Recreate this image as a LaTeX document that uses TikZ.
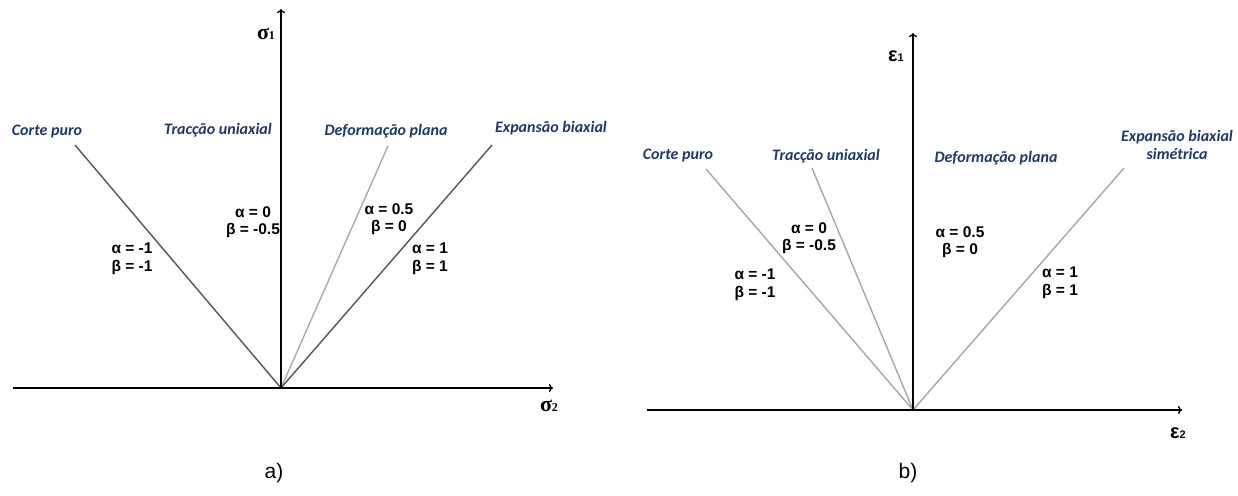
\documentclass[tikz,border=0pt]{standalone}
\usepackage{fontspec}
\setmainfont{Liberation Sans}
\newfontfamily\labfont{Carlito}
\newfontfamily\serffont{Liberation Serif}
\usetikzlibrary{arrows.meta}
\definecolor{navy}{HTML}{1F3864}
\definecolor{darkline}{HTML}{555555}
\definecolor{lightline}{HTML}{AAAAAA}
\definecolor{midline}{HTML}{A6A6A6}
\tikzset{
  axis/.style={line width=1.3pt, black, -{To[length=4pt,width=8pt]}},
  darkray/.style={line width=1.4pt, darkline},
  lightray/.style={line width=1.4pt, lightline},
  midray/.style={line width=1.4pt, midline},
  modelab/.style={font=\labfont\fontsize{16}{18}\selectfont\bfseries\itshape, text=navy, inner sep=0pt, align=center},
  coef/.style={font=\fontsize{15.5}{17.5}\selectfont\bfseries, inner sep=0pt, align=center},
  axlab/.style={inner sep=0pt},
  panel/.style={font=\fontsize{21}{22}\selectfont, inner sep=0pt}
}
\begin{document}
\begin{tikzpicture}[x=1pt,y=-1pt]
\useasboundingbox (0,0) rectangle (1238,495);
% ---------------- panel a ----------------
\coordinate (Oa) at (281,388);
\coordinate (XaL) at (13,388);
\coordinate (XaR) at (553,388);
\coordinate (YaT) at (281,9);
\coordinate (CaT) at (75,145);
\coordinate (DaT) at (388,146);
\coordinate (EaT) at (492,145);
\draw[darkray] (Oa) -- (CaT);
\draw[lightray] (Oa) -- (DaT);
\draw[darkray] (Oa) -- (EaT);
\draw[axis] (XaL) -- (XaR);
\draw[axis] (Oa) -- (YaT);
\node[axlab] (s1) at (266,34) {\serffont\bfseries\fontsize{22}{22}\selectfont σ\fontsize{12}{12}\selectfont 1};
\node[axlab] (s2) at (549,406) {\serffont\bfseries\fontsize{22}{22}\selectfont σ\fontsize{12}{12}\selectfont 2};
\node[modelab] (ca) at (47,132) {Corte puro};
\node[modelab] (ta) at (218,130) {Tracção uniaxial};
\node[modelab] (da) at (386,131) {Deformação plana};
\node[modelab] (ea) at (551,128) {Expansão biaxial};
\node[coef] (k1a) at (253,222) {α = 0\\β = -0.5};
\node[coef] (k2a) at (389,219) {α = 0.5\\β = 0};
\node[coef] (k3a) at (132,259) {α = -1\\β = -1};
\node[coef] (k4a) at (430,259) {α = 1\\β = 1};
\node[panel] (pa) at (274,473) {a)};
% ---------------- panel b ----------------
\coordinate (Ob) at (913,410);
\coordinate (XbL) at (647,410);
\coordinate (XbR) at (1182,410);
\coordinate (YbT) at (913,33);
\coordinate (CbT) at (706,169);
\coordinate (TbT) at (812,168);
\coordinate (EbT) at (1124,168);
\draw[midray] (Ob) -- (CbT);
\draw[midray] (Ob) -- (TbT);
\draw[midray] (Ob) -- (EbT);
\draw[axis] (XbL) -- (XbR);
\draw[axis] (Ob) -- (YbT);
\node[axlab] (e1) at (896,56) {\bfseries\fontsize{20}{20}\selectfont ε\fontsize{11}{11}\selectfont 1};
\node[axlab] (e2) at (1178,433) {\bfseries\fontsize{20}{20}\selectfont ε\fontsize{11}{11}\selectfont 2};
\node[modelab] (cb) at (678,156) {Corte puro};
\node[modelab] (tb) at (826,156) {Tracção uniaxial};
\node[modelab] (db) at (996,158) {Deformação plana};
\node[modelab] (eb) at (1177,145) {Expansão biaxial\\simétrica};
\node[coef] (k1b) at (809,238) {α = 0\\β = -0.5};
\node[coef] (k2b) at (960,242) {α = 0.5\\β = 0};
\node[coef] (k3b) at (755,285) {α = -1\\β = -1};
\node[coef] (k4b) at (1060,283) {α = 1\\β = 1};
\node[panel] (pb) at (908,473) {b)};
\end{tikzpicture}
\end{document}
